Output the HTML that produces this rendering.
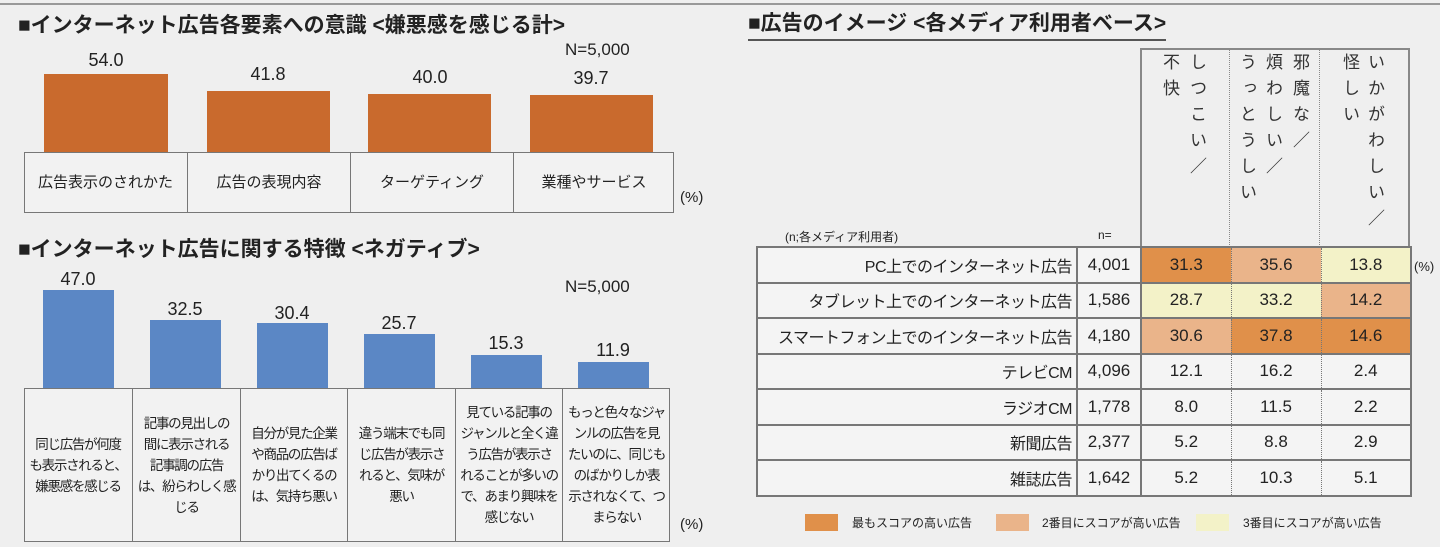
<!DOCTYPE html>
<html><head><meta charset="utf-8"><style>
*{margin:0;padding:0;box-sizing:border-box}
body{width:1440px;height:547px;background:#efefef;position:relative;overflow:hidden;font-family:"Liberation Sans","Noto Sans CJK JP",sans-serif;color:#222}
.a{position:absolute}
.t{font-size:21px;font-weight:bold;white-space:nowrap}
.v{font-size:18px;text-align:center;width:90px;margin-left:-45px}
.bo{background:#c96a2d}
.bb{background:#5b87c5}
.box{border:1.5px solid #777;background:#f2f2f2}
.lab{position:absolute;display:flex;align-items:center;justify-content:center;text-align:center;font-size:14px;line-height:21px;border-left:1.5px solid #777;white-space:nowrap}
.lab span{display:inline-block;font-size:13.5px;letter-spacing:-1.3px}
.vt{position:absolute;writing-mode:vertical-rl;font-size:17px;letter-spacing:9px;line-height:17px;top:53px;color:#333}
table{position:absolute;left:756px;top:246px;border-collapse:collapse;font-size:17px}
td{border:2px solid #777;height:35.5px;padding:0 4px;background:#f4f4f4}
td.l{width:320px;text-align:right;font-size:16px;letter-spacing:-0.5px}
td.n{width:64px;text-align:center}
td.d{width:90px;text-align:center;border-left-style:dotted;border-right-style:dotted;border-left-width:1px;border-right-width:1px}
td.d3{border-right:2px solid #777}
.o1{background:#e0904a!important}.o2{background:#eab48a!important}.o3{background:#f3f2c8!important}
</style></head><body>
<div class="a" style="left:0;top:3px;width:1440px;height:2px;background:#999"></div>

<div class="a t" style="left:18px;top:9px">■インターネット広告各要素への意識 &lt;嫌悪感を感じる計&gt;</div>
<div class="a" style="left:565px;top:40px;font-size:17px">N=5,000</div>
<div class="a bo" style="left:44px;top:74px;width:124px;height:78px"></div>
<div class="a bo" style="left:207px;top:91px;width:123px;height:61px"></div>
<div class="a bo" style="left:368px;top:94px;width:123px;height:58px"></div>
<div class="a bo" style="left:530px;top:95px;width:123px;height:57px"></div>
<div class="a v" style="left:106px;top:50px">54.0</div>
<div class="a v" style="left:268px;top:64px">41.8</div>
<div class="a v" style="left:430px;top:67px">40.0</div>
<div class="a v" style="left:591px;top:68px">39.7</div>
<div class="a box" style="left:24px;top:152px;width:650px;height:61px"></div>
<div class="lab" style="left:24px;top:152px;width:163px;height:61px;border-left:none;font-size:15px">広告表示のされかた</div>
<div class="lab" style="left:187px;top:152px;width:163px;height:61px;font-size:15px">広告の表現内容</div>
<div class="lab" style="left:350px;top:152px;width:163px;height:61px;font-size:15px">ターゲティング</div>
<div class="lab" style="left:513px;top:152px;width:161px;height:61px;font-size:15px">業種やサービス</div>
<div class="a" style="left:680px;top:189px;font-size:15px">(%)</div>

<div class="a t" style="left:18px;top:233px">■インターネット広告に関する特徴 &lt;ネガティブ&gt;</div>
<div class="a" style="left:565px;top:277px;font-size:17px">N=5,000</div>
<div class="a bb" style="left:43px;top:290px;width:71px;height:98px"></div>
<div class="a bb" style="left:150px;top:320px;width:71px;height:68px"></div>
<div class="a bb" style="left:257px;top:323px;width:71px;height:65px"></div>
<div class="a bb" style="left:364px;top:334px;width:71px;height:54px"></div>
<div class="a bb" style="left:471px;top:355px;width:71px;height:33px"></div>
<div class="a bb" style="left:578px;top:362px;width:71px;height:26px"></div>
<div class="a v" style="left:78px;top:269px">47.0</div>
<div class="a v" style="left:185px;top:299px">32.5</div>
<div class="a v" style="left:292px;top:303px">30.4</div>
<div class="a v" style="left:399px;top:313px">25.7</div>
<div class="a v" style="left:506px;top:333px">15.3</div>
<div class="a v" style="left:613px;top:340px">11.9</div>
<div class="a box" style="left:24px;top:388px;width:646px;height:154px"></div>
<div class="lab" style="left:24px;top:388px;width:108px;height:154px;border-left:none"><span>同じ広告が何度<br>も表示されると、<br>嫌悪感を感じる</span></div>
<div class="lab" style="left:132px;top:388px;width:108px;height:154px"><span>記事の見出しの<br>間に表示される<br>記事調の広告<br>は、紛らわしく感<br>じる</span></div>
<div class="lab" style="left:240px;top:388px;width:107px;height:154px"><span>自分が見た企業<br>や商品の広告ば<br>かり出てくるの<br>は、気持ち悪い</span></div>
<div class="lab" style="left:347px;top:388px;width:108px;height:154px"><span>違う端末でも同<br>じ広告が表示さ<br>れると、気味が<br>悪い</span></div>
<div class="lab" style="left:455px;top:388px;width:107px;height:154px"><span>見ている記事の<br>ジャンルと全く違<br>う広告が表示さ<br>れることが多いの<br>で、あまり興味を<br>感じない</span></div>
<div class="lab" style="left:562px;top:388px;width:108px;height:154px"><span>もっと色々なジャ<br>ンルの広告を見<br>たいのに、同じも<br>のばかりしか表<br>示されなくて、つ<br>まらない</span></div>
<div class="a" style="left:680px;top:516px;font-size:15px">(%)</div>

<div class="a t" style="left:748px;top:7px;border-bottom:2px solid #555;padding-bottom:2px">■広告のイメージ &lt;各メディア利用者ベース&gt;</div>
<div class="a" style="left:1140px;top:48px;width:270px;height:199px;border:2px solid #888;border-bottom:none"></div>
<div class="a" style="left:1229px;top:48px;height:199px;border-left:1px dotted #888"></div>
<div class="a" style="left:1319px;top:48px;height:199px;border-left:1px dotted #888"></div>
<div class="vt" style="left:1188px">しつこい／</div>
<div class="vt" style="left:1161px">不快</div>
<div class="vt" style="left:1291px">邪魔な／</div>
<div class="vt" style="left:1264px">煩わしい／</div>
<div class="vt" style="left:1238px">うっとうしい</div>
<div class="vt" style="left:1366px">いかがわしい／</div>
<div class="vt" style="left:1341px">怪しい</div>
<div class="a" style="left:785px;top:228px;font-size:12px">(n;各メディア利用者)</div>
<div class="a" style="left:1098px;top:228px;font-size:12px">n=</div>
<table>
<tr><td class="l">PC上でのインターネット広告</td><td class="n">4,001</td><td class="d o1">31.3</td><td class="d o2">35.6</td><td class="d d3 o3">13.8</td></tr>
<tr><td class="l">タブレット上でのインターネット広告</td><td class="n">1,586</td><td class="d o3">28.7</td><td class="d o3">33.2</td><td class="d d3 o2">14.2</td></tr>
<tr><td class="l">スマートフォン上でのインターネット広告</td><td class="n">4,180</td><td class="d o2">30.6</td><td class="d o1">37.8</td><td class="d d3 o1">14.6</td></tr>
<tr><td class="l">テレビCM</td><td class="n">4,096</td><td class="d">12.1</td><td class="d">16.2</td><td class="d d3">2.4</td></tr>
<tr><td class="l">ラジオCM</td><td class="n">1,778</td><td class="d">8.0</td><td class="d">11.5</td><td class="d d3">2.2</td></tr>
<tr><td class="l">新聞広告</td><td class="n">2,377</td><td class="d">5.2</td><td class="d">8.8</td><td class="d d3">2.9</td></tr>
<tr><td class="l">雑誌広告</td><td class="n">1,642</td><td class="d">5.2</td><td class="d">10.3</td><td class="d d3">5.1</td></tr>
</table>
<div class="a" style="left:1414px;top:259px;font-size:13px">(%)</div>
<div class="a o1" style="left:805px;top:514px;width:33px;height:17px"></div>
<div class="a" style="left:852px;top:514px;font-size:12px">最もスコアの高い広告</div>
<div class="a o2" style="left:996px;top:514px;width:33px;height:17px"></div>
<div class="a" style="left:1042px;top:514px;font-size:12px">2番目にスコアが高い広告</div>
<div class="a o3" style="left:1196px;top:514px;width:33px;height:17px"></div>
<div class="a" style="left:1243px;top:514px;font-size:12px">3番目にスコアが高い広告</div>
</body></html>
